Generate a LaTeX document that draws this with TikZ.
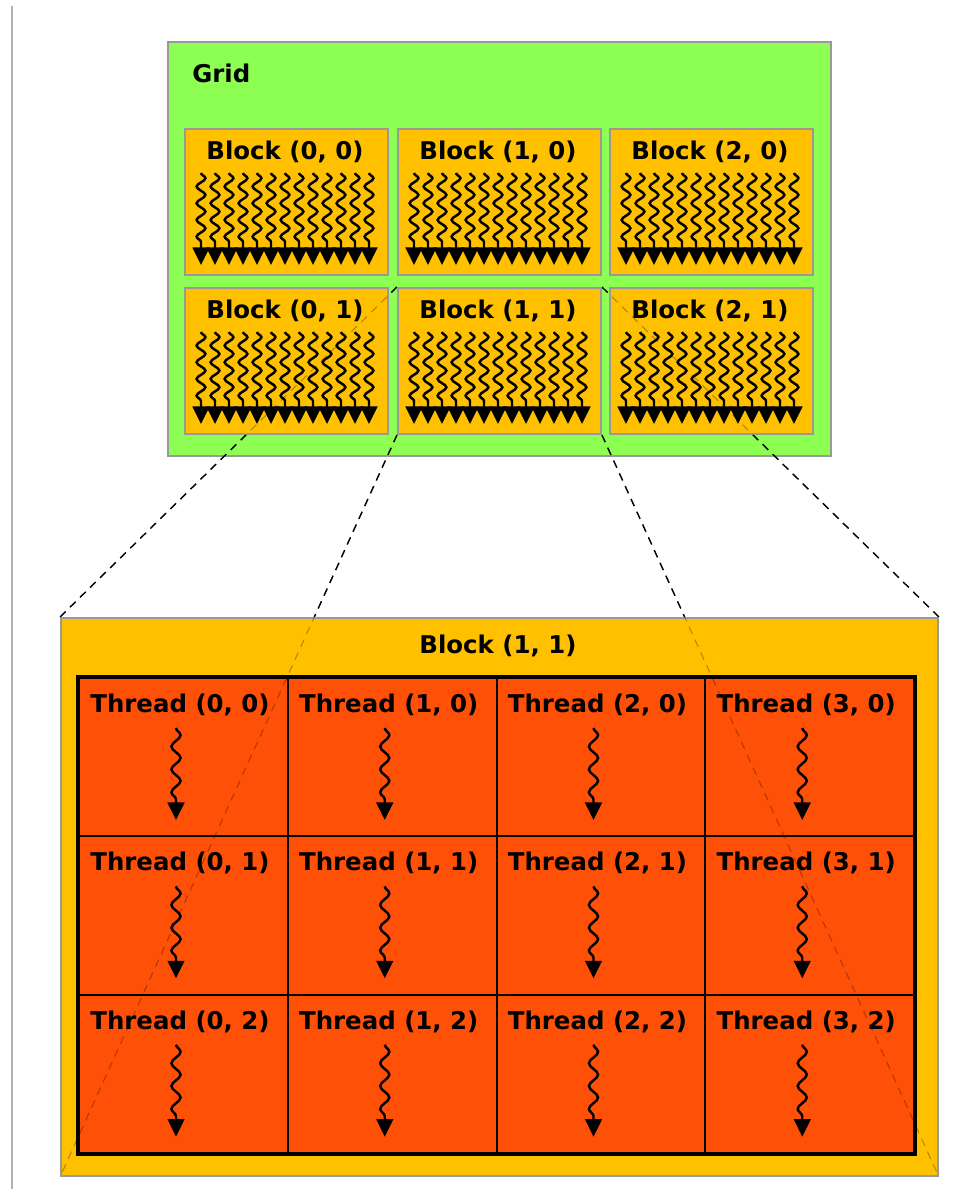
\documentclass[tikz,border=0pt]{standalone}
\usepackage{fontspec}
\setmainfont{DejaVu Sans}
\usetikzlibrary{arrows.meta,decorations.pathmorphing,positioning}
\definecolor{gridgreen}{RGB}{140,255,82}
\definecolor{blockorange}{RGB}{255,192,0}
\definecolor{threadred}{RGB}{255,80,8}
\def\px{0.02cm}
\pgfdeclarelayer{gridlayer}
\pgfdeclarelayer{dashlayer}
\pgfsetlayers{gridlayer,dashlayer,main}

\begin{document}
\begin{tikzpicture}[x=0.02cm, y=-0.02cm,
   lbl/.style={font=\fontsize{13.9}{16}\selectfont\bfseries, inner sep=0pt},
   outline/.style={draw=black!40, line width=1.1pt, inner sep=0pt, anchor=north west},
   blockbox/.style={outline, fill=blockorange, minimum width=203*\px, minimum height=146*\px},
   threadbox/.style={draw=black, fill=threadred, line width=1.2pt, inner sep=0pt, anchor=north west,
                     minimum width=208.75*\px, minimum height=158.33*\px},
   minisnake/.style={decorate, decoration={snake, amplitude=2.5pt, segment length=9.5pt, post length=10.5pt},
                     line width=1.4pt, -{Triangle[length=10pt, width=9.5pt]}},
   threadsnake/.style={decorate, decoration={snake, amplitude=2.6pt, segment length=13pt, post length=11pt},
                     line width=1.4pt, -{Triangle[length=10pt, width=9.5pt]}},
   zoomline/.style={line width=0.8pt, dash pattern=on 4.5pt off 3.5pt}]
   \useasboundingbox (0,0) rectangle (954,1189);
   \draw[black!30, line width=0.8pt] (12,6) -- (12,1189);

   % grid of blocks
   \begin{pgfonlayer}{gridlayer}
   \node[outline, fill=gridgreen, minimum width=663*\px, minimum height=414*\px] (grid) at (167,41) {};
   \end{pgfonlayer}
   \node[lbl, anchor=west] (gridlbl) at (192,73) {Grid};
   \foreach \i/\x in {0/184, 1/397, 2/609}
   \foreach \j/\y in {0/128, 1/287} {
      \node[blockbox] (blk\i\j) at (\x,\y) {};
      \node[lbl] (blk\i\j lbl) at (\x+101,\y+24) {Block (\i, \j)};
      \foreach \k in {0,...,12} % threads of the block
      \draw[minisnake] (\x+17+14*\k,\y+45) -- ++(0,92);
   }

   % zoomed block
   \node[outline, fill=blockorange, minimum width=877*\px, minimum height=558*\px] (bigblk) at (60,617) {};
   \node[lbl] (bigblklbl) at (498,646) {Block (1, 1)};
   \foreach \c in {0,...,3}
   \foreach \r in {0,1,2} {
      \node[threadbox] (th\c\r) at (78+208.75*\c,677+158.33*\r) {};
      \node[lbl] (th\c\r lbl) at (78+208.75*\c+102,677+158.33*\r+28) {Thread (\c, \r)};
      \draw[threadsnake] (78+208.75*\c+98,677+158.33*\r+51) -- ++(0,92);
   }
   \draw[line width=1.9pt] (th00.north west) rectangle (th32.south east);

   % zoom lines
   \begin{pgfonlayer}{dashlayer}
   \foreach \a in {north west, north east, south west, south east}
   \draw[zoomline] (blk11.\a) -- (bigblk.\a);
   \end{pgfonlayer}
   \foreach \a in {north west, north east, south west, south east}
   \draw[zoomline, line width=0.6pt, opacity=0.3] (blk11.\a) -- (bigblk.\a);
\end{tikzpicture}
\end{document}
